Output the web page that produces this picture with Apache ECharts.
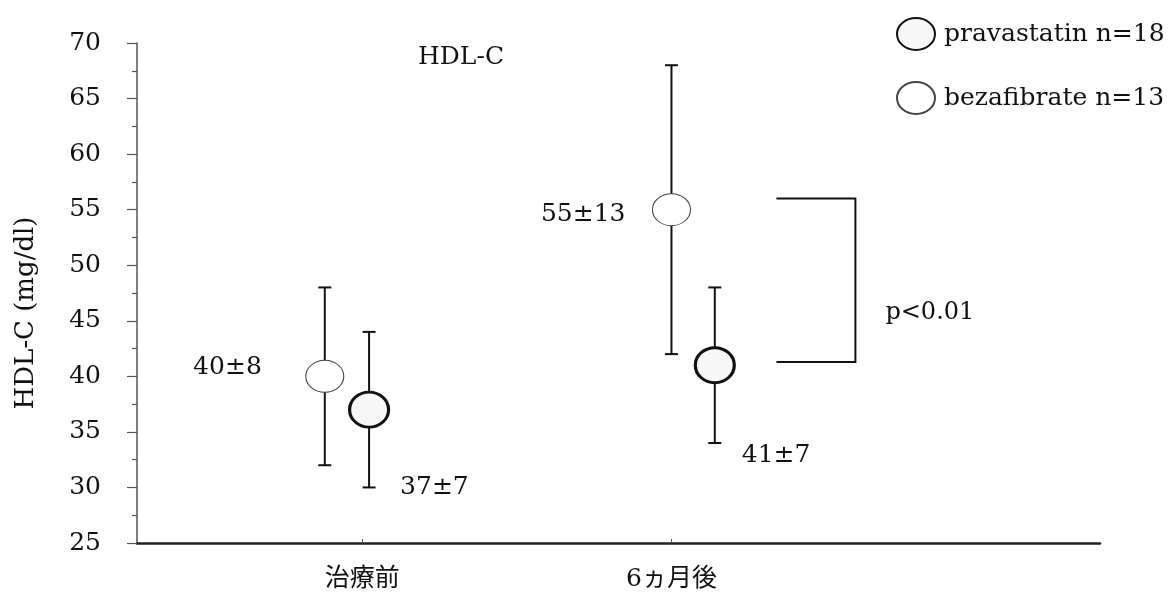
<!DOCTYPE html>
<html>
<head>
<meta charset="utf-8">
<script src="https://cdn.jsdelivr.net/npm/echarts@6/dist/echarts.min.js"></script>
<style>
  html, body { margin: 0; padding: 0; background: #fff; }
  #chart { width: 1176px; height: 592px; }
</style>
</head>
<body>
<div id="chart"></div>
<script>
// Groups along the horizontal axis and their positions on a 0–100 value scale
const categories = ['治療前', '6ヵ月後'];
const categoryPos = [23.4, 55.5];

// Per-group horizontal position of each treatment's mark
const pravaPos = [24.1, 60.0];
const bezaPos = [19.5, 55.5];

// HDL-C mean and SD (mg/dl)
const pravaMean = [37, 41];
const pravaSD = [7, 7];
const bezaMean = [40, 55];
const bezaSD = [8, 13];

// Y axis range and tick step
const yMin = 25, yMax = 70, yStep = 5;

// Significance bracket between the 6-month groups
const bracketX = [66.4, 74.6];
const bracketY = [56, 41.3];
const bracketText = 'p<0.01';

const seriesNames = ['pravastatin n=18', 'bezafibrate n=13'];

const FONT = '"DejaVu Serif", "Noto Sans CJK JP", serif';
const INK = '#111';
const ELLIPSE = 'path://M0,16A19,16,0,1,1,38,16A19,16,0,1,1,0,16Z';

function errData(pos, mean, sd) {
  return pos.map((x, i) => [x, mean[i] - sd[i], mean[i] + sd[i]]);
}

function renderErr(params, api) {
  const x = api.value(0);
  const lo = api.coord([x, api.value(1)]);
  const hi = api.coord([x, api.value(2)]);
  const w = 6.5;
  const style = { stroke: INK, lineWidth: 2 };
  return {
    type: 'group',
    children: [
      { type: 'line', shape: { x1: lo[0], y1: lo[1], x2: hi[0], y2: hi[1] }, style },
      { type: 'line', shape: { x1: lo[0] - w, y1: lo[1], x2: lo[0] + w, y2: lo[1] }, style },
      { type: 'line', shape: { x1: hi[0] - w, y1: hi[1], x2: hi[0] + w, y2: hi[1] }, style }
    ]
  };
}

function renderBracket(params, api) {
  const a = api.coord([api.value(0), api.value(2)]);
  const b = api.coord([api.value(1), api.value(2)]);
  const c = api.coord([api.value(1), api.value(3)]);
  const d = api.coord([api.value(0), api.value(3)]);
  return {
    type: 'group',
    children: [
      { type: 'polyline', shape: { points: [a, b, c, d] },
        style: { stroke: INK, lineWidth: 2, fill: null } },
      { type: 'text', x: b[0] + 30, y: (b[1] + c[1]) / 2 + 33,
        style: { text: bracketText, font: '24px ' + FONT, fill: INK,
                 align: 'left', verticalAlign: 'middle' } }
    ]
  };
}

// Value labels "mean±SD" placed around each mark
function pointData(pos, mean, sd, offsets) {
  return pos.map((x, i) => ({
    value: [x, mean[i]],
    label: {
      show: true,
      position: 'inside',
      offset: offsets[i].slice(0, 2),
      align: offsets[i][2],
      formatter: mean[i] + '±' + sd[i]
    }
  }));
}

const chart = echarts.init(document.getElementById('chart'), null, { renderer: 'canvas' });

chart.setOption({
  animation: false,
  backgroundColor: '#fff',
  textStyle: { fontFamily: FONT, color: INK },
  title: {
    text: 'HDL-C',
    left: 413, top: 40,
    textStyle: { fontFamily: FONT, fontSize: 25, fontWeight: 'normal', color: INK }
  },
  legend: {
    data: seriesNames,
    orient: 'vertical',
    left: 891, top: 12,
    itemWidth: 38, itemHeight: 32,
    itemGap: 30,
    textStyle: { fontFamily: FONT, fontSize: 25, color: INK, padding: [0, 0, 0, 4] }
  },
  grid: { left: 137, right: 76, top: 43, bottom: 49, containLabel: false, outerBoundsMode: 'none' },
  xAxis: {
    type: 'value',
    min: 0, max: 100,
    splitLine: { show: false },
    axisLine: { show: true, onZero: false, lineStyle: { color: '#222', width: 2.5 } },
    axisTick: { show: true, inside: true, length: 4, customValues: categoryPos,
                lineStyle: { color: '#555', width: 1 } },
    axisLabel: {
      customValues: categoryPos,
      formatter: v => categories[categoryPos.indexOf(v)] || '',
      margin: 24,
      fontFamily: FONT, fontSize: 25, color: INK
    }
  },
  yAxis: {
    type: 'value',
    min: yMin, max: yMax, interval: yStep,
    splitLine: { show: false },
    axisLine: { show: true, lineStyle: { color: '#555', width: 1.5 } },
    axisTick: { show: true, length: 10, lineStyle: { color: '#555', width: 1.2 } },
    minorTick: { show: true, splitNumber: 2, length: 5, lineStyle: { color: '#555', width: 1.2 } },
    axisLabel: { margin: 36, fontFamily: FONT, fontSize: 25, color: INK }
  },
  graphic: [
    {
      type: 'text',
      x: 26, y: 313,
      rotation: Math.PI / 2,
      style: { text: 'HDL-C (mg/dl)', font: '26px ' + FONT, fill: INK,
               align: 'center', verticalAlign: 'middle' }
    }
  ],
  series: [
    {
      type: 'custom', name: 'bezaErr', silent: true, z: 2,
      renderItem: renderErr,
      data: errData(bezaPos, bezaMean, bezaSD)
    },
    {
      type: 'custom', name: 'pravaErr', silent: true, z: 2,
      renderItem: renderErr,
      data: errData(pravaPos, pravaMean, pravaSD)
    },
    {
      type: 'custom', name: 'bracket', silent: true, z: 2,
      renderItem: renderBracket,
      data: [[bracketX[0], bracketX[1], bracketY[0], bracketY[1]]]
    },
    {
      type: 'scatter', name: seriesNames[0], z: 5,
      symbol: ELLIPSE, symbolSize: [39, 35],
      itemStyle: { color: '#f7f7f7', borderColor: INK, borderWidth: 3, opacity: 1 },
      label: { fontFamily: FONT, fontSize: 25, color: INK },
      data: pointData(pravaPos, pravaMean, pravaSD, [[31, 78, 'left'], [27, 90, 'left']])
    },
    {
      type: 'scatter', name: seriesNames[1], z: 4,
      symbol: ELLIPSE, symbolSize: [38, 32],
      itemStyle: { color: '#fff', borderColor: '#444', borderWidth: 1, opacity: 1 },
      label: { fontFamily: FONT, fontSize: 25, color: INK },
      data: pointData(bezaPos, bezaMean, bezaSD, [[-63, -9, 'right'], [-46, 5, 'right']])
    }
  ]
});
</script>
</body>
</html>
